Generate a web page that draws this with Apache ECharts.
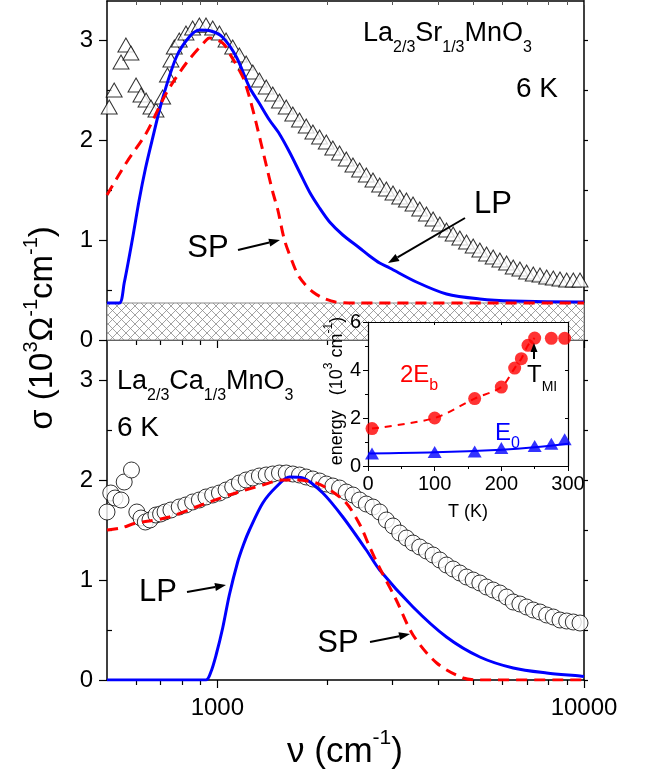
<!DOCTYPE html>
<html><head><meta charset="utf-8">
<script src="https://cdn.jsdelivr.net/npm/echarts@6/dist/echarts.min.js"></script>
<style>html,body{margin:0;padding:0;background:#fff}#c{width:649px;height:773px}</style>
</head><body><div id="c"></div>
<script>
// ---------------- data ----------------
const X_MIN = 500, X_MAX = 10000;
const X_MAJOR = [1000, 10000];
const X_MINOR = [600, 700, 800, 900, 2000, 3000, 4000, 5000, 6000, 7000, 8000, 9000];
const Y_TICKS = [0, 1, 2, 3];
const Y_MINOR = [0.5, 1.5, 2.5];
const Y_RIGHT = [0, 0.5, 1, 1.5, 2, 2.5, 3];
const HATCH_TOP = 0.37;

// La2/3Sr1/3MnO3, 6 K (triangles)
const lsmoFreq = [507,523,546,563,581,600,619,639,659,680,709,731,747,763,787,821,856,893,931,971,1013,1056,1101,1148,1198,1249,1302,1359,1416,1477,1541,1606,1675,1747,1822,1900,1982,2065,2154,2247,2343,2443,2548,2657,2771,2890,3013,3143,3278,3417,3564,3717,3876,4043,4216,4396,4585,4781,4985,5199,5422,5653,5896,6149,6411,6686,6973,7271,7584,7909,8246,8600,8968,9350,9752];
const lsmoSigma = [2.33,2.5,2.78,2.95,2.87,2.55,2.45,2.4,2.33,2.3,2.43,2.65,2.8,2.93,3.0,3.07,3.12,3.15,3.15,3.12,3.07,3.0,2.93,2.85,2.77,2.68,2.6,2.53,2.46,2.39,2.33,2.26,2.2,2.14,2.08,2.03,1.98,1.92,1.87,1.81,1.75,1.7,1.65,1.6,1.55,1.51,1.47,1.43,1.4,1.36,1.31,1.26,1.21,1.16,1.1,1.06,1.02,0.98,0.94,0.9,0.86,0.83,0.8,0.77,0.73,0.71,0.68,0.66,0.65,0.63,0.62,0.61,0.6,0.6,0.6];
// small polaron fit (SP, red dashed), top
const lsmoSpFreq = [500,564,640,726,823,933,951,1034,1078,1173,1223,1276,1359,1416,1462,1524,1606,1660,1740,1822,1940,2100,2400,10000];
const lsmoSpSigma = [1.45,1.77,2.07,2.47,2.77,3.0,3.02,2.97,2.87,2.63,2.43,2.17,1.75,1.48,1.3,1.0,0.77,0.65,0.55,0.48,0.42,0.38,0.37,0.37];
// large polaron fit (LP, blue), top
const lsmoLpFreq = [500,540,557,584,612,637,664,707,773,838,893,960,1032,1127,1222,1300,1387,1477,1573,1675,1784,1900,2024,2199,2443,2602,2771,2951,3490,4216,5199,6400,9752,10000];
const lsmoLpSigma = [0.37,0.37,0.57,0.97,1.4,1.72,2.0,2.4,2.83,3.03,3.1,3.09,3.03,2.83,2.53,2.37,2.2,2.06,1.88,1.68,1.48,1.32,1.18,1.05,0.92,0.84,0.77,0.72,0.58,0.46,0.41,0.39,0.38,0.38];

// La2/3Ca1/3MnO3, 6 K (circles)
const lcmoFreq = [500,512,526,546,557,583,603,619,636,655,680,700,720,747,787,820,856,893,931,971,1013,1056,1101,1148,1198,1249,1302,1359,1416,1477,1541,1606,1675,1747,1822,1900,1982,2065,2154,2247,2343,2443,2548,2657,2771,2890,3013,3143,3278,3417,3564,3717,3876,4043,4216,4396,4585,4781,4985,5199,5422,5653,5896,6149,6411,6686,6973,7271,7584,7909,8246,8600,8968,9350,9752];
const lcmoSigma = [1.68,1.87,1.82,1.8,1.98,2.1,1.68,1.62,1.58,1.6,1.65,1.66,1.68,1.7,1.73,1.75,1.78,1.8,1.83,1.85,1.87,1.9,1.93,1.97,2.0,2.02,2.04,2.05,2.06,2.07,2.07,2.06,2.05,2.03,2.01,1.99,1.96,1.94,1.92,1.88,1.85,1.8,1.76,1.73,1.68,1.6,1.54,1.47,1.42,1.37,1.33,1.29,1.25,1.2,1.15,1.11,1.07,1.03,1.0,0.97,0.93,0.9,0.87,0.83,0.78,0.76,0.73,0.7,0.68,0.65,0.63,0.6,0.59,0.58,0.57];
const lcmoSpFreq = [500,546,600,652,739,875,1078,1330,1508,1641,1860,2026,2247,2450,2603,2771,3076,3417,3965,4683,5200,10000];
const lcmoSpSigma = [1.5,1.52,1.57,1.59,1.63,1.73,1.85,1.95,2.0,2.0,1.97,1.9,1.77,1.55,1.33,1.12,0.8,0.45,0.17,0.02,0,0];
const lcmoLpFreq = [500,931,960,992,1034,1078,1136,1180,1223,1330,1446,1573,1710,1939,2199,2548,2771,3417,4216,5199,6411,7909,9752,10000];
const lcmoLpSigma = [0,0,0.08,0.25,0.52,0.85,1.18,1.36,1.5,1.77,1.93,2.03,2.02,1.87,1.63,1.3,1.1,0.73,0.43,0.23,0.12,0.07,0.04,0.035];

// inset: energies vs T
const ebT = [6,100,160,200,220,230,240,250,275,295];
const ebE = [1.56,2.0,2.81,3.29,4.08,4.47,5.03,5.33,5.32,5.32];
const ebLineT = [6,100,160,200,220,230,240,250];
const ebLineE = [1.56,2.0,2.81,3.29,4.08,4.47,5.03,5.33];
const e0T = [6,100,160,200,250,275,295];
const e0E = [0.52,0.58,0.6,0.75,0.83,0.93,1.11];
const e0FitT = [0,100,200,250,300];
const e0FitE = [0.52,0.57,0.68,0.78,0.93];
const insetXTicks = [0, 100, 200, 300];
const insetYTicks = [0, 2, 4, 6];

// ---------------- helpers ----------------
const zip = (a, b) => a.map((v, i) => [v, b[i]]);
const FONT = 'Liberation Sans, Arial, Helvetica, sans-serif';
const BLACK = '#000';
const RED = '#ff0000';
const BLUE = '#0000ff';
const lineSty = { color: BLACK, width: 1.5 };
const tickSty = { color: BLACK, width: 1.2 };

function axis(base, o) {
  const a = Object.assign({
    axisLine: { show: false, onZero: false },
    axisTick: { show: false },
    axisLabel: { show: false },
    splitLine: { show: false },
    minorTick: { show: false },
    minorSplitLine: { show: false }
  }, base);
  for (const k in o) {
    if (o[k] && typeof o[k] === 'object' && !Array.isArray(o[k]) && a[k] && typeof a[k] === 'object') a[k] = Object.assign({}, a[k], o[k]);
    else a[k] = o[k];
  }
  return a;
}
const xLog = (g, o) => axis({ type: 'log', logBase: 10, gridIndex: g, min: X_MIN, max: X_MAX }, o);
const yVal = (g, max, o) => axis({ type: 'value', gridIndex: g, min: 0, max: max }, o);

// hatch pattern
const hatch = document.createElement('canvas');
hatch.width = 9; hatch.height = 9;
(function () {
  const c = hatch.getContext('2d');
  c.fillStyle = '#fff'; c.fillRect(0, 0, 9, 9);
  c.strokeStyle = '#8a8a8a'; c.lineWidth = 0.8;
  c.beginPath(); c.moveTo(0, 0); c.lineTo(9, 9); c.moveTo(0, 9); c.lineTo(9, 0); c.stroke();
})();

function arrow(x1, y1, x2, y2, color, w, hl, hw) {
  const a = Math.atan2(y2 - y1, x2 - x1);
  const bx = x2 - hl * Math.cos(a), by = y2 - hl * Math.sin(a);
  const px = -Math.sin(a) * hw, py = Math.cos(a) * hw;
  return [
    { type: 'line', z: 100, shape: { x1: x1, y1: y1, x2: bx, y2: by }, style: { stroke: color, lineWidth: w } },
    { type: 'polygon', z: 100, shape: { points: [[x2, y2], [bx + px, by + py], [bx - px, by - py]] }, style: { fill: color } }
  ];
}
function text(x, y, str, o) {
  o = o || {};
  return {
    type: 'text', z: 100, x: x, y: y, rotation: o.rot || 0,
    style: {
      text: str, fontSize: o.size || 24, fontFamily: FONT, fill: o.color || BLACK,
      align: o.align || 'center', textAlign: o.align || 'center',
      verticalAlign: 'middle', textVerticalAlign: 'middle',
      rich: o.rich
    }
  };
}
function subRich(main, sub, lh, color) {
  return {
    m: { fontSize: main, fontFamily: FONT, fill: color || BLACK, color: color || BLACK, lineHeight: lh, verticalAlign: 'middle' },
    s: { fontSize: sub, fontFamily: FONT, fill: color || BLACK, color: color || BLACK, lineHeight: sub, verticalAlign: 'bottom' },
    p: { fontSize: sub, fontFamily: FONT, fill: color || BLACK, color: color || BLACK, lineHeight: sub, verticalAlign: 'top' }
  };
}

const chart = echarts.init(document.getElementById('c'), null, { renderer: 'canvas' });

const option = {
  animation: false,
  backgroundColor: '#fff',
  grid: [
    { left: 107, top: 1, width: 477, height: 339, outerBoundsMode: 'none', containLabel: false },
    { left: 107, top: 340, width: 477, height: 340, outerBoundsMode: 'none', containLabel: false },
    { left: 368, top: 322, width: 200, height: 144, show: true, backgroundColor: '#fff', borderWidth: 0, z: 5, outerBoundsMode: 'none', containLabel: false }
  ],
  xAxis: [
    xLog(0, { position: 'bottom', axisLine: { show: true, lineStyle: lineSty }, axisTick: { show: true, inside: false, length: 8, customValues: X_MAJOR, lineStyle: tickSty } }),
    xLog(0, { position: 'bottom', axisTick: { show: true, inside: false, length: 5, customValues: X_MINOR, lineStyle: tickSty } }),
    xLog(0, { position: 'top', axisLine: { show: true, lineStyle: lineSty }, axisTick: { show: true, inside: true, length: 4, customValues: X_MAJOR.concat(X_MINOR), lineStyle: { color: '#555', width: 1 } } }),
    xLog(1, { position: 'bottom', axisLine: { show: true, lineStyle: lineSty }, axisTick: { show: true, inside: false, length: 8, customValues: X_MAJOR, lineStyle: tickSty },
      axisLabel: { show: true, customValues: X_MAJOR, formatter: v => String(v), fontSize: 24, fontFamily: FONT, color: BLACK, margin: 16 } }),
    xLog(1, { position: 'bottom', axisTick: { show: true, inside: false, length: 5, customValues: X_MINOR, lineStyle: tickSty } }),
    axis({ type: 'value', gridIndex: 2, min: 0, max: 300, interval: 100, position: 'bottom', z: 6 }, {
      axisLine: { show: true, lineStyle: { color: BLACK, width: 1.2 } },
      axisTick: { show: true, inside: false, length: 5, customValues: insetXTicks, lineStyle: { color: BLACK, width: 1 } },
      minorTick: { show: true, splitNumber: 2, length: 3, lineStyle: { color: BLACK, width: 1 } },
      axisLabel: { show: true, customValues: insetXTicks, fontSize: 20, fontFamily: FONT, color: BLACK, margin: 8 } }),
    axis({ type: 'value', gridIndex: 2, min: 0, max: 300, interval: 100, position: 'top', z: 6 }, {
      axisLine: { show: true, lineStyle: { color: BLACK, width: 1.2 } },
      axisTick: { show: true, inside: true, length: 3, lineStyle: { color: BLACK, width: 1 } } })
  ],
  yAxis: [
    yVal(0, 3.39, { position: 'left', axisLine: { show: true, lineStyle: lineSty }, axisTick: { show: true, inside: false, length: 8, customValues: Y_TICKS, lineStyle: tickSty },
      axisLabel: { show: true, customValues: Y_TICKS, formatter: v => String(v), fontSize: 24, fontFamily: FONT, color: BLACK, margin: 14 } }),
    yVal(0, 3.39, { position: 'left', axisTick: { show: true, inside: true, length: 5, customValues: Y_MINOR, lineStyle: tickSty } }),
    yVal(0, 3.39, { position: 'right', axisLine: { show: true, lineStyle: lineSty }, axisTick: { show: true, inside: false, length: 4, customValues: Y_RIGHT, lineStyle: tickSty } }),
    yVal(1, 3.4, { position: 'left', axisLine: { show: true, lineStyle: lineSty }, axisTick: { show: true, inside: false, length: 8, customValues: Y_TICKS, lineStyle: tickSty },
      axisLabel: { show: true, customValues: Y_TICKS, formatter: v => String(v), fontSize: 24, fontFamily: FONT, color: BLACK, margin: 14 } }),
    yVal(1, 3.4, { position: 'left', axisTick: { show: true, inside: true, length: 5, customValues: Y_MINOR, lineStyle: tickSty } }),
    yVal(1, 3.4, { position: 'right', axisLine: { show: true, lineStyle: lineSty }, axisTick: { show: true, inside: false, length: 4, customValues: Y_RIGHT, lineStyle: tickSty } }),
    axis({ type: 'value', gridIndex: 2, min: 0, max: 6, interval: 2, position: 'left', z: 6 }, {
      axisLine: { show: true, lineStyle: { color: BLACK, width: 1.2 } },
      axisTick: { show: true, inside: false, length: 5, customValues: insetYTicks, lineStyle: { color: BLACK, width: 1 } },
      minorTick: { show: true, splitNumber: 2, length: 3, lineStyle: { color: BLACK, width: 1 } },
      axisLabel: { show: true, customValues: insetYTicks, fontSize: 20, fontFamily: FONT, color: BLACK, margin: 7 } }),
    axis({ type: 'value', gridIndex: 2, min: 0, max: 6, interval: 2, position: 'right', z: 6 }, {
      axisLine: { show: true, lineStyle: { color: BLACK, width: 1.2 } },
      axisTick: { show: true, inside: true, length: 3, lineStyle: { color: BLACK, width: 1 } } })
  ],
  series: [
    { type: 'scatter', name: 'LSMO', xAxisIndex: 0, yAxisIndex: 0, z: 2, clip: true, data: zip(lsmoFreq, lsmoSigma),
      symbol: 'triangle', symbolSize: [16, 14], itemStyle: { color: '#fff', borderColor: BLACK, borderWidth: 1 },
      markArea: { silent: true, itemStyle: { color: { image: hatch, repeat: 'repeat' }, borderColor: '#8a8a8a', borderWidth: 1 },
        data: [[{ coord: [X_MIN, 0] }, { coord: [X_MAX, HATCH_TOP] }]] } },
    { type: 'line', name: 'LSMO LP', xAxisIndex: 0, yAxisIndex: 0, z: 3, data: zip(lsmoLpFreq, lsmoLpSigma), symbol: 'none', smooth: 0.3,
      lineStyle: { color: BLUE, width: 3 } },
    { type: 'line', name: 'LSMO SP', xAxisIndex: 0, yAxisIndex: 0, z: 3, data: zip(lsmoSpFreq, lsmoSpSigma), symbol: 'none', smooth: 0.3,
      lineStyle: { color: RED, width: 3, type: [11, 7] } },
    { type: 'scatter', name: 'LCMO', xAxisIndex: 3, yAxisIndex: 3, z: 2, clip: true, data: zip(lcmoFreq, lcmoSigma),
      symbol: 'circle', symbolSize: 16, itemStyle: { color: '#fff', borderColor: BLACK, borderWidth: 1 } },
    { type: 'line', name: 'LCMO LP', xAxisIndex: 3, yAxisIndex: 3, z: 3, data: zip(lcmoLpFreq, lcmoLpSigma), symbol: 'none', smooth: 0.3,
      lineStyle: { color: BLUE, width: 3 } },
    { type: 'line', name: 'LCMO SP', xAxisIndex: 3, yAxisIndex: 3, z: 3, data: zip(lcmoSpFreq, lcmoSpSigma), symbol: 'none', smooth: 0.3,
      lineStyle: { color: RED, width: 3, type: [11, 7] } },
    { type: 'line', name: '2Eb fit', xAxisIndex: 5, yAxisIndex: 6, z: 7, data: zip(ebLineT, ebLineE), symbol: 'none', smooth: 0.3,
      lineStyle: { color: RED, width: 2, type: [7, 6] } },
    { type: 'scatter', name: '2Eb', xAxisIndex: 5, yAxisIndex: 6, z: 8, data: zip(ebT, ebE), symbol: 'circle', symbolSize: 13,
      itemStyle: { color: RED } },
    { type: 'line', name: 'E0 fit', xAxisIndex: 5, yAxisIndex: 6, z: 7, data: zip(e0FitT, e0FitE), symbol: 'none', smooth: 0.3,
      lineStyle: { color: BLUE, width: 2 } },
    { type: 'scatter', name: 'E0', xAxisIndex: 5, yAxisIndex: 6, z: 8, data: zip(e0T, e0E), symbol: 'triangle', symbolSize: [14, 12],
      itemStyle: { color: BLUE } }
  ],
  graphic: [].concat(
    [
      text(363, 34, '{m|La}{s|2/3}{m|Sr}{s|1/3}{m|MnO}{s|3}', { align: 'left', rich: subRich(27, 16, 44) }),
      text(558, 89, '6 K', { align: 'right', size: 28 }),
      text(493, 204, 'LP', { size: 31 }),
      text(208, 248, 'SP', { size: 31 }),
      text(117, 382, '{m|La}{s|2/3}{m|Ca}{s|1/3}{m|MnO}{s|3}', { align: 'left', rich: subRich(27, 16, 44) }),
      text(117, 428, '6 K', { align: 'left', size: 28 }),
      text(158, 592, 'LP', { size: 31 }),
      text(338, 643, 'SP', { size: 31 }),
      text(400, 375, '{m|2E}{s|b}', { align: 'left', rich: subRich(24, 16, 38, RED) }),
      text(495, 433, '{m|E}{s|0}', { align: 'left', rich: subRich(24, 16, 38, BLUE) }),
      text(527, 375, '{m|T}{s|MI}', { align: 'left', rich: subRich(24, 14, 38) }),
      text(337, 391, '{m|energy   (10}{p|3}{m| cm}{p|-1}{m|)}', { rot: Math.PI / 2, rich: subRich(18, 12, 28) }),
      text(468, 512, 'T (K)', { size: 18 }),
      text(43, 328, '{m|σ (10}{p|3}{m|Ω}{p|-1}{m|cm}{p|-1}{m|)}', { rot: Math.PI / 2, rich: subRich(33, 20, 44) }),
      text(345, 752, '{m|ν (cm}{p|-1}{m|)}', { rich: subRich(35, 21, 48) })
    ],
    arrow(465, 218, 388, 263, BLACK, 2, 11, 4),
    arrow(238, 250, 280, 240, BLACK, 2, 11, 4),
    arrow(187, 592, 226, 585, BLACK, 2, 11, 4),
    arrow(370, 642, 410, 634, BLACK, 2, 11, 4),
    arrow(534, 359, 534, 343, BLACK, 2, 9, 3.5)
  )
};
chart.setOption(option);
</script>
</body></html>
